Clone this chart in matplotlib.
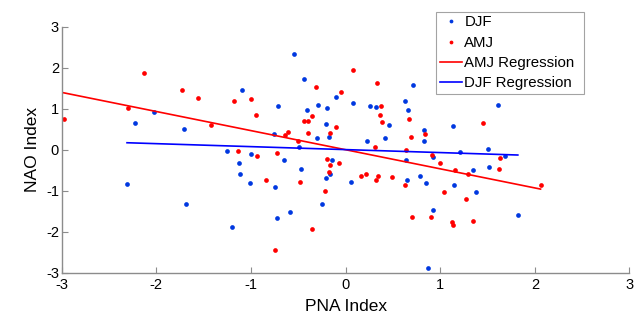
import numpy as np
import matplotlib
matplotlib.use("Agg")
import matplotlib.pyplot as plt

plt.rcParams['font.family'] = ['Liberation Sans', 'DejaVu Sans']
plt.rcParams['axes.unicode_minus'] = False

# DJF season (winter) points: PNA index vs NAO index
djf_pna = [-2.23, -2.03, -1.71, -2.31, -1.69, -1.09, -0.55, -0.44, -0.10, -0.71,
           -0.41, -0.29, -0.20, -0.21, -0.18, -0.30, -0.76, 0.08, 0.71, 0.26,
           0.32, 0.46, 0.63, 0.66, 0.83, 0.83, 0.42, 0.23, 1.13, 1.61,
           -1.25, -1.00, -0.65, -0.49, -1.13, -1.12, -1.01, -0.75, -0.47, -0.14,
           -0.16, -0.21, -0.25, -0.59, -0.72, -1.20, 0.64, 0.92, 1.21, 1.35,
           0.06, 0.65, 0.79, 0.85, 1.15, 1.38, 0.92, 0.87, 1.50, 1.68,
           1.52, 1.82]
djf_nao = [0.66, 0.93, 0.50, -0.83, -1.33, 1.45, 2.33, 1.72, 1.28, 1.06,
           0.98, 1.09, 1.02, 0.63, 0.30, 0.28, 0.38, 1.15, 1.59, 1.06,
           1.05, 0.61, 1.19, 0.98, 0.47, 0.22, 0.28, 0.22, 0.59, 1.08,
           -0.04, -0.11, -0.24, 0.06, -0.33, -0.60, -0.80, -0.92, -0.47, -0.24,
           -0.59, -0.70, -1.33, -1.52, -1.67, -1.88, -0.24, -0.17, -0.06, -0.49,
           -0.79, -0.74, -0.63, -0.82, -0.85, -1.02, -1.46, -2.89, 0.02, -0.15,
           -0.42, -1.60]

# AMJ season points
amj_pna = [-2.98, -2.13, -2.30, -1.73, -1.56, -1.42, -1.18, -1.00, -0.95, -0.31,
           -0.05, -0.36, -0.44, -0.40, -0.10, -0.16, -0.40, -0.50, -0.64, -0.61,
           0.08, 0.33, 0.37, 0.36, 0.38, 0.67, 0.84, 0.69, 1.45,
           -1.14, -0.94, -0.73, -0.84, -0.48, -0.20, -0.07, -0.17, -0.18, -0.22,
           -0.35, -0.75, 0.31, 0.64, 0.91, 1.00, 1.16, 1.29, 0.16, 0.22,
           0.32, 0.34, 0.49, 0.63, 1.04, 1.27, 0.70, 0.90, 1.12, 1.13,
           1.35, 1.63, 1.62, 2.06]
amj_nao = [0.76, 1.87, 1.02, 1.45, 1.26, 0.61, 1.18, 1.24, 0.85, 1.54,
           1.41, 0.83, 0.71, 0.69, 0.55, 0.41, 0.40, 0.22, 0.35, 0.43,
           1.95, 1.63, 1.07, 0.85, 0.67, 0.74, 0.39, 0.30, 0.65,
           -0.02, -0.16, -0.08, -0.75, -0.79, -0.23, -0.33, -0.38, -0.54, -1.00,
           -1.93, -2.44, 0.07, 0.00, -0.12, -0.33, -0.50, -0.60, -0.63, -0.59,
           -0.75, -0.63, -0.67, -0.86, -1.02, -1.20, -1.64, -1.64, -1.76, -1.83,
           -1.74, -0.21, -0.47, -0.85]

# regression coefficients (slope, intercept)
amj_fit = (-0.466, 0.0)
djf_fit = (-0.0725, 0.003)

ticks = [-3, -2, -1, 0, 1, 2, 3]

BLUE_DOT = '#0038e0'
RED = '#ff0000'
BLUE = '#0000ff'
GREY = '#8c8c8c'

fig = plt.figure(figsize=(6.43, 3.22), dpi=100)
ax = fig.add_axes([0.096, 0.153, 0.883, 0.764])

ax.plot(djf_pna, djf_nao, 'o', ls='none', color=BLUE_DOT, ms=3.4, mew=0, label='DJF')
ax.plot(amj_pna, amj_nao, 'o', ls='none', color=RED, ms=3.4, mew=0, label='AMJ')

xa = np.array([min(amj_pna), max(amj_pna)])
ax.plot(xa, amj_fit[0] * xa + amj_fit[1], color=RED, lw=1.2, label='AMJ Regression')
xd = np.array([min(djf_pna), max(djf_pna)])
ax.plot(xd, djf_fit[0] * xd + djf_fit[1], color=BLUE, lw=1.2, label='DJF Regression')

ax.set_xlim(-3, 3)
ax.set_ylim(-3, 3)
ax.set_xticks(ticks)
ax.set_yticks(ticks)
ax.tick_params(direction='in', length=4, color=GREY, labelsize=10.5, pad=2)
ax.tick_params(axis='x', pad=4)
for side in ['top', 'right']:
    ax.spines[side].set_visible(False)
for side in ['left', 'bottom']:
    ax.spines[side].set_color(GREY)
    ax.spines[side].set_linewidth(1.0)

ax.set_xlabel('PNA Index', fontsize=12.5, labelpad=5)
ax.set_ylabel('NAO Index', fontsize=12.5, labelpad=4)

# legend box sits partly above the axes, as in the original
leg = ax.legend(loc='upper left', bbox_to_anchor=(0.659, 0.70, 0.261, 0.361),
                mode='expand', fontsize=10.8, frameon=True, fancybox=False,
                borderpad=0.25, labelspacing=0.42, handlelength=1.5,
                handletextpad=0.15, markerscale=0.8, borderaxespad=0)
leg.get_frame().set_edgecolor(GREY)
leg.get_frame().set_linewidth(0.8)

fig.savefig('out.png', dpi=100)
